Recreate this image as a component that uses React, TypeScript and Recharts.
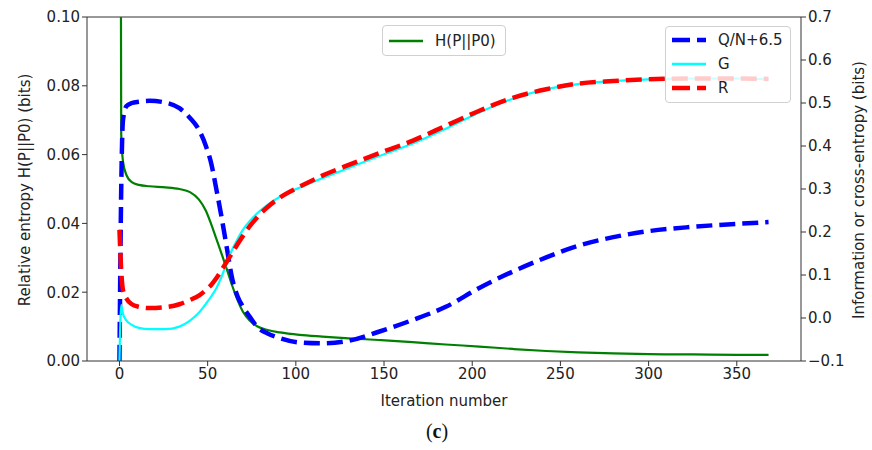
import React from "react";
import { LineChart, Line, XAxis, YAxis, ReferenceLine } from "recharts";

// iteration numbers shared by all series
const iters = [0, 1, 2, 4, 7, 11, 17, 26, 34, 40, 45, 49, 52, 55, 58, 61, 64, 67, 70, 74, 78, 84, 91, 102, 115, 130, 147, 166, 185, 204, 223, 242, 260, 280, 300, 325, 350, 368];

// relative entropy H(P||P0), left axis
const hVals = [0.3, 0.066, 0.058, 0.054, 0.052, 0.0512, 0.0508, 0.0505, 0.05, 0.0491, 0.047, 0.0437, 0.0398, 0.0354, 0.031, 0.0265, 0.0218, 0.0176, 0.0143, 0.0117, 0.0101, 0.009, 0.0083, 0.0076, 0.0071, 0.0066, 0.0061, 0.0055, 0.0048, 0.0042, 0.0035, 0.0029, 0.0025, 0.0022, 0.002, 0.0019, 0.0018, 0.0018];

// right axis series
const qVals = [-0.1, 0.3, 0.46, 0.493, 0.5, 0.503, 0.505, 0.501, 0.488, 0.465, 0.438, 0.4, 0.36, 0.298, 0.232, 0.16, 0.09, 0.05, 0.026, 0.002, -0.02, -0.036, -0.047, -0.057, -0.059, -0.053, -0.032, -0.005, 0.026, 0.07, 0.108, 0.141, 0.168, 0.188, 0.202, 0.212, 0.219, 0.223];
const gVals = [-0.1, 0.03, 0.01, -0.006, -0.016, -0.023, -0.026, -0.026, -0.02, -0.006, 0.012, 0.033, 0.05, 0.07, 0.097, 0.13, 0.16, 0.184, 0.205, 0.226, 0.243, 0.263, 0.282, 0.303, 0.325, 0.349, 0.376, 0.405, 0.44, 0.478, 0.51, 0.532, 0.544, 0.551, 0.555, 0.557, 0.557, 0.555];
const rVals = [0.205, 0.11, 0.065, 0.045, 0.032, 0.026, 0.023, 0.025, 0.032, 0.042, 0.052, 0.065, 0.077, 0.093, 0.112, 0.132, 0.152, 0.172, 0.191, 0.214, 0.234, 0.258, 0.28, 0.305, 0.331, 0.356, 0.383, 0.412, 0.447, 0.482, 0.512, 0.532, 0.545, 0.551, 0.555, 0.557, 0.557, 0.556];

const xTicks = [0, 50, 100, 150, 200, 250, 300, 350];
const leftTicks = [0, 0.02, 0.04, 0.06, 0.08, 0.1];
const rightTicks = [-0.1, 0, 0.1, 0.2, 0.3, 0.4, 0.5, 0.6, 0.7];

const data = iters.map((x, i) => ({ x, h: hVals[i], q: qVals[i], g: gVals[i], r: rVals[i] }));

const FONT = "DejaVu Sans, sans-serif";
const AXIS = "#333";
const tickStyle = { fontSize: 15, fill: "#222", fontFamily: FONT };

const fmtRight = (v: number) => (v < 0 ? "\u2212" + Math.abs(v).toFixed(1) : v.toFixed(1));

function Sample({ color, width, dash }: { color: string; width: number; dash?: string }) {
  return (
    <svg width={34} height={10} style={{ display: "block" }}>
      <line x1={0} y1={5} x2={34} y2={5} stroke={color} strokeWidth={width} strokeDasharray={dash} />
    </svg>
  );
}

const legendBox: React.CSSProperties = {
  position: "absolute",
  background: "rgba(255,255,255,0.8)",
  border: "1px solid #d0d0d0",
  borderRadius: 4,
  fontFamily: FONT,
  fontSize: 15,
  color: "#222",
  boxSizing: "border-box",
};

const row: React.CSSProperties = { display: "flex", alignItems: "center", gap: 12, height: 24 };

const axisLabel: React.CSSProperties = {
  position: "absolute",
  whiteSpace: "nowrap",
  fontFamily: FONT,
  fontSize: 15,
  color: "#222",
};

export default function App() {
  return (
    <div style={{ position: "absolute", left: 0, top: 0, width: 872, height: 450, background: "#fff" }}>
      <LineChart width={872} height={450} data={data} margin={{ top: 17, right: 11, left: 27, bottom: 59 }}>
        <XAxis
          dataKey="x"
          type="number"
          domain={[-18.4, 386.4]}
          ticks={xTicks}
          tick={tickStyle}
          stroke={AXIS}
          tickSize={5}
          height={30}
          allowDataOverflow
        />
        <YAxis
          yAxisId="left"
          domain={[0, 0.1]}
          ticks={leftTicks}
          tickFormatter={(v: number) => v.toFixed(2)}
          tick={tickStyle}
          stroke={AXIS}
          tickSize={5}
          width={60}
          allowDataOverflow
        />
        <YAxis
          yAxisId="right"
          orientation="right"
          domain={[-0.1, 0.7]}
          ticks={rightTicks}
          tickFormatter={fmtRight}
          tick={tickStyle}
          stroke={AXIS}
          tickSize={5}
          width={60}
          allowDataOverflow
        />
        <ReferenceLine yAxisId="left" y={0.1} stroke={AXIS} strokeWidth={1} />
        <Line yAxisId="left" type="monotone" dataKey="h" stroke="#008000" strokeWidth={2.2} dot={false} isAnimationActive={false} />
        <Line yAxisId="right" type="monotone" dataKey="q" stroke="#0000ff" strokeWidth={4.5} strokeDasharray="16 7" dot={false} isAnimationActive={false} />
        <Line yAxisId="right" type="monotone" dataKey="g" stroke="#00ffff" strokeWidth={2.2} dot={false} isAnimationActive={false} />
        <Line yAxisId="right" type="monotone" dataKey="r" stroke="#ff0000" strokeWidth={4.5} strokeDasharray="16 7" dot={false} isAnimationActive={false} />
      </LineChart>

      <div style={{ ...legendBox, left: 382, top: 25, width: 124, height: 31, padding: "3px 6px" }}>
        <div style={row}>
          <Sample color="#008000" width={2.5} />
          <span>H(P||P0)</span>
        </div>
      </div>

      <div style={{ ...legendBox, left: 665, top: 26, width: 126, height: 77, padding: "1px 6px" }}>
        <div style={row}>
          <Sample color="#0000ff" width={4.5} dash="18 7" />
          <span>Q/N+6.5</span>
        </div>
        <div style={row}>
          <Sample color="#00ffff" width={2.5} />
          <span>G</span>
        </div>
        <div style={row}>
          <Sample color="#ff0000" width={4.5} dash="18 7" />
          <span>R</span>
        </div>
      </div>

      <div style={{ ...axisLabel, left: 25, top: 190, transform: "translate(-50%, -50%) rotate(-90deg)" }}>
        Relative entropy H(P||P0) (bits)
      </div>
      <div style={{ ...axisLabel, left: 859, top: 190, transform: "translate(-50%, -50%) rotate(-90deg)" }}>
        Information or cross-entropy (bits)
      </div>
      <div style={{ ...axisLabel, left: 444, top: 401, transform: "translate(-50%, -50%)" }}>Iteration number</div>
      <div
        style={{
          position: "absolute",
          left: 437,
          top: 431,
          transform: "translate(-50%, -50%)",
          fontFamily: "Liberation Serif, serif",
          fontSize: 20,
          color: "#111",
        }}
      >
        (<b>c</b>)
      </div>
    </div>
  );
}
